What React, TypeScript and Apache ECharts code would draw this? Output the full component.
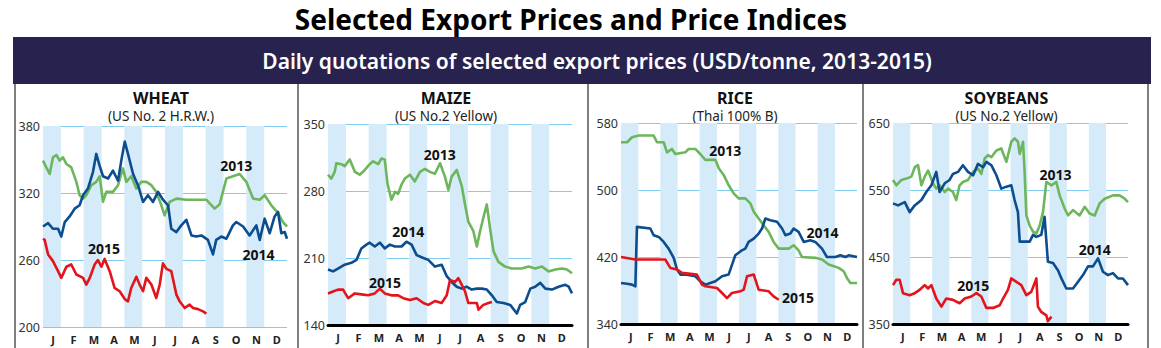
import React, { useEffect, useRef } from 'react';
import * as echarts from 'echarts';

const MONTHS = ['J', 'F', 'M', 'A', 'M', 'J', 'J', 'A', 'S', 'O', 'N', 'D'];
const BAND_MONTHS = [0, 2, 4, 6, 8, 10];
const YEARS = ['2013', '2014', '2015'];

const MAIN_TITLE = 'Selected Export Prices and Price Indices';
const BANNER_TEXT = 'Daily quotations of selected export prices (USD/tonne, 2013-2015)';

const PANEL_TITLES = ['WHEAT', 'MAIZE', 'RICE', 'SOYBEANS'];
const PANEL_SUBS = ['(US No. 2 H.R.W.)', '(US No.2 Yellow)', '(Thai 100% B)', '(US No.2 Yellow)'];

const WHEAT_TICKS = [200, 260, 320, 380];
const MAIZE_TICKS = [140, 210, 280, 350];
const RICE_TICKS = [340, 420, 500, 580];
const SOY_TICKS = [350, 450, 550, 650];

// [month (0-12), USD/tonne]
const WHEAT_2013 = [[0,349],[0.16,343],[0.33,337],[0.49,352],[0.66,354],[0.82,349],[0.98,352],[1.15,346],[1.39,343],[1.64,330],[1.8,318],[1.97,315],[2.13,318],[2.38,327],[2.62,330],[2.79,335],[2.95,312],[3.11,321],[3.44,321],[3.69,327],[3.93,342],[4.1,330],[4.34,335],[4.59,324],[4.84,330],[5.08,330],[5.33,327],[5.57,321],[5.82,309],[5.98,300],[6.23,312],[6.56,315],[7.05,314],[7.54,314],[8.03,314],[8.44,306],[8.69,310],[9.02,333],[9.34,335],[9.67,337],[10,330],[10.33,315],[10.66,314],[10.9,318],[11.23,309],[11.56,302],[11.8,294],[12,290]];
const WHEAT_2014 = [[0,290],[0.25,293],[0.49,288],[0.74,288],[0.9,281],[1.07,294],[1.31,299],[1.56,306],[1.8,309],[1.97,318],[2.21,324],[2.46,339],[2.62,355],[2.79,344],[2.95,335],[3.2,333],[3.44,340],[3.69,331],[3.85,349],[4.02,366],[4.18,355],[4.43,337],[4.67,327],[4.92,312],[5.16,318],[5.41,312],[5.66,321],[5.9,314],[6.15,309],[6.31,288],[6.56,285],[6.8,291],[7.05,296],[7.3,282],[7.54,281],[7.79,282],[8.11,278],[8.36,265],[8.52,278],[8.77,281],[9.02,279],[9.34,291],[9.51,294],[9.84,290],[10.16,282],[10.49,291],[10.66,278],[10.9,297],[11.15,284],[11.39,299],[11.56,303],[11.72,284],[11.89,285],[12,279]];
const WHEAT_2015 = [[0,279],[0.08,278],[0.25,265],[0.49,259],[0.74,250],[0.9,244],[1.15,254],[1.39,256],[1.64,247],[1.97,244],[2.13,238],[2.3,244],[2.54,256],[2.7,260],[2.87,254],[3.03,261],[3.28,250],[3.52,235],[3.77,232],[4.02,225],[4.18,223],[4.34,235],[4.59,245],[4.75,238],[4.92,232],[5.08,244],[5.33,238],[5.57,226],[5.74,238],[5.9,257],[6.07,252],[6.31,250],[6.56,229],[6.72,223],[6.97,217],[7.21,220],[7.38,217],[7.62,216],[7.87,214],[8.03,212]];

const MAIZE_2013 = [[0,297],[0.16,293],[0.33,300],[0.41,309],[0.66,308],[0.82,306],[1.07,313],[1.32,300],[1.56,297],[1.81,302],[2.05,308],[2.22,311],[2.47,308],[2.63,314],[2.79,313],[2.93,287],[3.12,271],[3.29,279],[3.45,277],[3.62,287],[3.78,293],[4.03,297],[4.27,290],[4.52,300],[4.77,303],[5.01,300],[5.26,298],[5.51,309],[5.75,295],[5.92,281],[6.08,295],[6.33,302],[6.58,285],[6.74,266],[6.9,248],[7.15,238],[7.32,222],[7.48,238],[7.64,252],[7.81,266],[7.97,241],[8.14,217],[8.38,206],[8.71,201],[9.04,199],[9.53,199],[9.86,201],[10.19,199],[10.52,201],[10.85,196],[11.18,198],[11.51,199],[11.75,198],[12,194]];
const MAIZE_2014 = [[0,198],[0.25,196],[0.49,199],[0.82,203],[1.15,205],[1.4,208],[1.64,220],[1.89,224],[2.05,226],[2.3,222],[2.55,226],[2.79,220],[3.04,224],[3.29,222],[3.62,222],[3.86,227],[4.11,224],[4.36,213],[4.69,210],[4.93,208],[5.26,201],[5.59,203],[5.84,191],[6.08,185],[6.33,180],[6.58,178],[6.82,180],[7.07,177],[7.32,178],[7.56,178],[7.81,177],[8.06,171],[8.3,164],[8.63,163],[8.96,161],[9.29,152],[9.45,161],[9.7,164],[9.95,178],[10.19,180],[10.44,184],[10.69,178],[11.01,177],[11.34,180],[11.67,182],[11.84,180],[12,173]];
const MAIZE_2015 = [[0,173],[0.25,175],[0.49,177],[0.74,177],[0.99,168],[1.32,173],[1.64,172],[1.97,171],[2.3,173],[2.55,178],[2.79,173],[3.12,171],[3.45,171],[3.7,168],[4.03,166],[4.36,168],[4.69,163],[4.93,161],[5.26,165],[5.59,163],[5.84,171],[6,187],[6.25,185],[6.41,189],[6.58,182],[6.74,175],[6.9,163],[7.15,163],[7.32,163],[7.4,156],[7.64,161],[7.89,163],[8.06,164]];

const RICE_2013 = [[0,557],[0.31,557],[0.56,563],[0.9,565],[1.66,565],[1.83,557],[2.17,557],[2.34,545],[2.59,549],[2.76,543],[3.27,545],[3.44,549],[3.78,549],[4.03,543],[4.29,536],[4.8,536],[4.97,526],[5.22,518],[5.47,506],[5.73,496],[5.98,490],[6.32,490],[6.58,484],[6.75,474],[7,466],[7.25,458],[7.51,450],[7.76,438],[8.02,430],[8.53,430],[8.78,434],[9.03,428],[9.2,420],[9.88,419],[10.22,417],[10.56,411],[11.07,407],[11.32,403],[11.49,395],[11.66,389],[12,389]];
const RICE_2014 = [[0,389],[0.31,388],[0.56,387],[0.73,385],[0.81,456],[1.49,454],[1.66,446],[1.92,444],[2.17,438],[2.42,430],[2.68,419],[2.85,405],[3.02,399],[3.27,399],[3.78,397],[4.03,391],[4.29,387],[4.54,389],[4.8,391],[5.14,397],[5.47,399],[5.81,422],[6.15,428],[6.32,430],[6.49,438],[6.75,442],[7,448],[7.17,454],[7.34,466],[7.59,464],[7.93,462],[8.19,454],[8.36,446],[8.61,448],[8.78,454],[9.03,450],[9.29,438],[9.63,440],[9.88,438],[10.22,430],[10.47,420],[10.9,420],[11.15,422],[11.41,420],[11.58,422],[12,420]];
const RICE_2015 = [[0,420],[0.73,417],[2.25,417],[2.51,407],[2.85,405],[3.1,401],[3.86,399],[4.12,387],[4.29,385],[4.88,383],[5.14,377],[5.39,371],[5.64,377],[6.07,379],[6.24,381],[6.41,397],[6.75,399],[7,381],[7.51,379],[7.76,373],[8.02,369]];

const SOY_2013 = [[0,565],[0.17,557],[0.43,565],[0.68,567],[0.94,570],[1.11,584],[1.28,587],[1.45,557],[1.62,570],[1.79,579],[2.04,560],[2.21,552],[2.38,557],[2.64,547],[2.81,552],[3.06,547],[3.23,535],[3.4,557],[3.57,562],[3.83,565],[4.09,577],[4.34,582],[4.51,574],[4.68,597],[4.85,602],[5.02,599],[5.28,609],[5.53,612],[5.79,592],[6.04,622],[6.21,627],[6.38,622],[6.47,604],[6.64,622],[6.72,577],[6.81,512],[6.98,497],[7.15,488],[7.32,485],[7.49,497],[7.66,517],[7.83,562],[8.09,557],[8.34,562],[8.51,542],[8.77,522],[8.94,512],[9.19,520],[9.53,512],[9.79,525],[10.04,515],[10.3,512],[10.55,530],[10.81,537],[11.23,542],[11.57,542],[11.83,537],[12,532]];
const SOY_2014 = [[0,530],[0.26,527],[0.6,532],[0.85,517],[1.11,527],[1.45,535],[1.7,547],[1.96,557],[2.21,577],[2.38,547],[2.64,560],[2.89,565],[3.06,574],[3.32,577],[3.57,587],[3.83,577],[4.09,572],[4.34,589],[4.6,584],[4.77,592],[5.02,587],[5.28,572],[5.53,552],[5.79,555],[6.04,557],[6.21,535],[6.38,517],[6.47,473],[6.72,473],[6.98,473],[7.15,483],[7.32,480],[7.57,483],[7.74,510],[7.91,443],[8.17,441],[8.43,430],[8.6,418],[8.85,403],[9.19,403],[9.45,413],[9.7,423],[9.96,436],[10.21,436],[10.47,448],[10.72,428],[10.98,423],[11.23,426],[11.49,418],[11.74,418],[12,408]];
const SOY_2015 = [[0,408],[0.17,416],[0.34,416],[0.51,396],[0.85,393],[1.11,396],[1.36,401],[1.62,408],[1.79,403],[1.96,408],[2.21,388],[2.47,376],[2.72,388],[3.06,386],[3.4,381],[3.66,388],[4,391],[4.26,396],[4.51,391],[4.77,374],[5.11,374],[5.45,378],[5.62,388],[5.87,401],[6.04,418],[6.3,413],[6.55,408],[6.81,393],[7.06,398],[7.23,411],[7.32,418],[7.4,376],[7.57,368],[7.83,363],[7.91,354],[8.09,361]];

// year label anchors [month, value]
const WHEAT_LABELS = [[9.5, 345], [10.6, 265], [3.0, 270]];
const MAIZE_LABELS = [[5.5, 318], [3.95, 238], [2.8, 184]];
const RICE_LABELS = [[5.3, 547], [10.25, 449], [9.0, 372]];
const SOY_LABELS = [[8.3, 573], [10.3, 461], [4.1, 407]];

const PANEL_TICKS = [WHEAT_TICKS, MAIZE_TICKS, RICE_TICKS, SOY_TICKS];
const PANEL_DATA = [
  [WHEAT_2013, WHEAT_2014, WHEAT_2015],
  [MAIZE_2013, MAIZE_2014, MAIZE_2015],
  [RICE_2013, RICE_2014, RICE_2015],
  [SOY_2013, SOY_2014, SOY_2015],
];
const PANEL_LABELS = [WHEAT_LABELS, MAIZE_LABELS, RICE_LABELS, SOY_LABELS];

// layout
const GRIDS = [
  { left: 43, top: 126, width: 244, height: 201 },
  { left: 328, top: 124, width: 244, height: 201 },
  { left: 621, top: 123, width: 236, height: 201 },
  { left: 893, top: 123, width: 235, height: 201 },
];
const BORDERS_X = [15, 298, 588, 863, 1148];
const COLORS = ['#6cb65c', '#0b4d8e', '#e3141b'];
const FONT = '"Noto Sans", "Open Sans", sans-serif';
const BAND_W = 0.88;

export default function App() {
  const ref = useRef<HTMLDivElement>(null);
  useEffect(() => {
    if (!ref.current) return;
    const chart = echarts.init(ref.current, undefined, { renderer: 'svg' });
    const grid: any[] = [];
    const xAxis: any[] = [];
    const yAxis: any[] = [];
    const series: any[] = [];
    const graphic: any[] = [];

    graphic.push({
      type: 'text', x: 571, y: 19,
      style: { text: MAIN_TITLE, fill: '#000', font: `bold 28px ${FONT}`, align: 'center', verticalAlign: 'middle' },
    });
    graphic.push({ type: 'rect', shape: { x: 13, y: 37, width: 1138, height: 47 }, style: { fill: '#28224f' } });
    graphic.push({
      type: 'text', x: 597, y: 61,
      style: { text: BANNER_TEXT, fill: '#fff', font: `600 21px ${FONT}`, align: 'center', verticalAlign: 'middle' },
    });
    BORDERS_X.forEach((bx) => {
      graphic.push({ type: 'line', shape: { x1: bx, y1: 84, x2: bx, y2: 348 }, style: { stroke: '#555', lineWidth: 1.5 } });
    });

    GRIDS.forEach((g, i) => {
      const ticks = PANEL_TICKS[i];
      const cx = g.left + g.width / 2 - 4;
      graphic.push({
        type: 'text', x: cx, y: 98,
        style: { text: PANEL_TITLES[i], fill: '#111', font: `bold 16px ${FONT}`, align: 'center', verticalAlign: 'middle' },
      });
      graphic.push({
        type: 'text', x: cx, y: 116,
        style: { text: PANEL_SUBS[i], fill: '#222', font: `13.5px ${FONT}`, align: 'center', verticalAlign: 'middle' },
      });
      grid.push({ left: g.left, top: g.top, width: g.width, height: g.height });
      xAxis.push({
        gridIndex: i, type: 'value', min: 0, max: 12, interval: 0.5, z: 1,
        axisTick: { show: false }, splitLine: { show: false },
        axisLine: { show: i > 0, lineStyle: { color: '#000', width: 3 } },
        axisLabel: {
          color: '#222', fontWeight: 'bold', fontSize: 11, fontFamily: FONT, margin: 7,
          formatter: (v: number) => (Number.isInteger(v) ? '' : MONTHS[Math.floor(v)]),
        },
      });
      yAxis.push({
        gridIndex: i, type: 'value', min: ticks[0], max: ticks[ticks.length - 1], interval: ticks[1] - ticks[0], z: 1,
        axisLine: { show: false }, axisTick: { show: false },
        axisLabel: { color: '#333', fontSize: 12.5, fontFamily: FONT, margin: 3 },
        splitLine: { show: true, lineStyle: { color: '#7dcdf2', width: 1 } },
      });
      series.push({
        type: 'line', xAxisIndex: i, yAxisIndex: i, z: 0, data: [], silent: true,
        markArea: {
          silent: true, itemStyle: { color: '#d5ebf9' },
          data: BAND_MONTHS.map((m) => [{ xAxis: m }, { xAxis: m + BAND_W }]),
        },
      });
      PANEL_DATA[i].forEach((d, k) => {
        const [lx, ly] = PANEL_LABELS[i][k];
        series.push({
          type: 'line', xAxisIndex: i, yAxisIndex: i, z: 3 + k,
          data: d, showSymbol: false, symbol: 'none',
          lineStyle: { color: COLORS[k], width: 2.6, join: 'round' },
          markPoint: {
            silent: true, symbol: 'circle', symbolSize: 1,
            itemStyle: { color: 'transparent' },
            label: {
              show: true, position: 'inside', formatter: YEARS[k],
              color: '#111', fontWeight: 'bold', fontSize: 14, fontFamily: FONT,
            },
            data: [{ coord: [lx, ly], name: YEARS[k] }],
          },
        });
      });
    });

    chart.setOption({ animation: false, backgroundColor: '#fff', grid, xAxis, yAxis, series, graphic });
    return () => chart.dispose();
  }, []);
  return <div ref={ref} style={{ position: 'absolute', left: 0, top: 0, width: 1161, height: 348 }} />;
}
